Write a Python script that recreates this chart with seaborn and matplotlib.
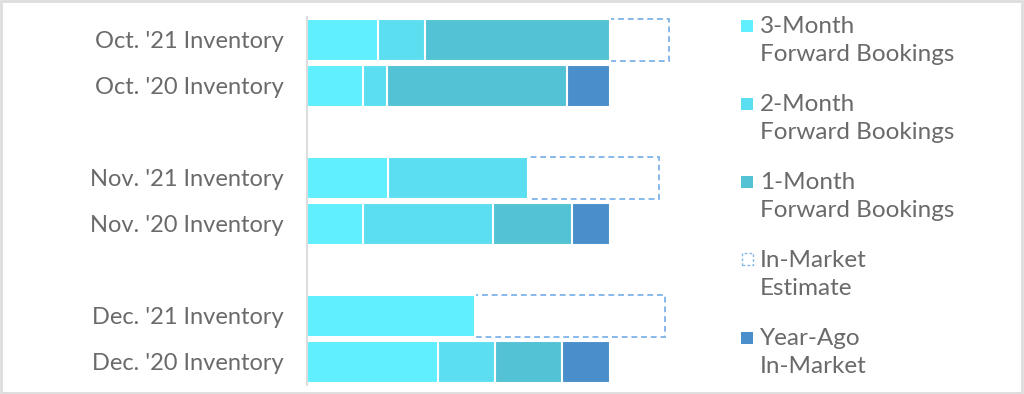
import numpy as np
import pandas as pd
import matplotlib
matplotlib.use("Agg")
import matplotlib.pyplot as plt
from matplotlib.patches import Rectangle
import seaborn as sns

# bar labels, top to bottom (blank rows sit between the month groups)
labels = ["Oct. '21 Inventory", "Oct. '20 Inventory",
          "Nov. '21 Inventory", "Nov. '20 Inventory",
          "Dec. '21 Inventory", "Dec. '20 Inventory"]
rows = [0, 1, 3, 4, 6, 7]

# segment sizes, % of year-ago in-market total
three_month = [23.5, 18.6, 26.7, 18.4, 55.4, 43.3]
two_month = [15.5, 7.8, 46.3, 42.9, 0.0, 18.7]
one_month = [61.0, 59.5, 0.0, 26.2, 0.0, 22.1]
in_market = [19.6, 0.0, 43.3, 0.0, 62.7, 0.0]
year_ago = [0.0, 14.1, 0.0, 12.5, 0.0, 15.9]

legend_labels = [("3-Month", "Forward Bookings"),
                 ("2-Month", "Forward Bookings"),
                 ("1-Month", "Forward Bookings"),
                 ("In-Market", "Estimate"),
                 ("Year-Ago", "In-Market")]

c3, c2, c1 = "#5FEFFE", "#5BDEF0", "#54C2D5"
c_ya, c_dash = "#4A8FCB", "#86B9EA"
txt = "#6a6a6a"

sns.set_style("white")
plt.rcParams["font.family"] = ["Lato", "DejaVu Sans"]

df = pd.DataFrame({"row": rows, "m3": three_month, "m2": two_month,
                   "m1": one_month, "im": in_market, "ya": year_ago})
df["c_m3"] = df["m3"]
df["c_m2"] = df["c_m3"] + df["m2"]
df["c_m1"] = df["c_m2"] + df["m1"]
df["c_ya"] = df["c_m1"] + df["ya"]
df["c_im"] = df["c_m1"] + df["im"]

fig = plt.figure(figsize=(10.24, 3.94), dpi=100)
ax = fig.add_axes([307 / 1024, 9 / 394, 393 / 1024, 368 / 394])

# stacked by overlaying cumulative totals, longest first
common = dict(orient="y", native_scale=True, width=0.93, errorbar=None, ax=ax)
sns.barplot(data=df, x="c_im", y="row", color="white", edgecolor=c_dash,
            linewidth=1.4, linestyle=(0, (3, 2)), saturation=1, **common)
sns.barplot(data=df, x="c_ya", y="row", color=c_ya, edgecolor="white",
            linewidth=1.5, saturation=1, **common)
sns.barplot(data=df, x="c_m1", y="row", color=c1, edgecolor="white",
            linewidth=1.5, saturation=1, **common)
sns.barplot(data=df, x="c_m2", y="row", color=c2, edgecolor="white",
            linewidth=1.5, saturation=1, **common)
sns.barplot(data=df, x="c_m3", y="row", color=c3, edgecolor="white",
            linewidth=1.5, saturation=1, **common)

ax.set_xlim(0, 129.7)
ax.set_ylim(7.5, -0.5)
ax.set_yticks(rows)
ax.set_yticklabels(labels, fontsize=17, color=txt)
ax.set_xticks([])
ax.set_xlabel("")
ax.set_ylabel("")
ax.tick_params(axis="y", length=0, pad=17)
for s in ["top", "right", "bottom"]:
    ax.spines[s].set_visible(False)
ax.spines["left"].set_color("#dddddd")
ax.spines["left"].set_linewidth(1.5)

# legend on the right, square lined up with the first text line
W, H = 1024, 394
fills = [c3, c2, c1, None, c_ya]
for i, ((l1, l2), fc) in enumerate(zip(legend_labels, fills)):
    base = 33 + 78 * i
    if fc is None:
        sq = Rectangle((742 / W, 1 - (base - 2) / H), 11 / W, 12 / H,
                       transform=fig.transFigure, facecolor="white",
                       edgecolor=c_dash, linewidth=1, linestyle=(0, (2, 1.5)))
    else:
        sq = Rectangle((741 / W, 1 - (base - 1) / H), 12 / W, 12 / H,
                       transform=fig.transFigure, facecolor=fc, edgecolor="none")
    fig.patches.append(sq)
    fig.text(760 / W, 1 - base / H, l1, fontsize=17.5, color=txt, va="baseline")
    fig.text(760 / W, 1 - (base + 28) / H, l2, fontsize=17.5, color=txt, va="baseline")

# thin grey frame round the whole picture
fig.patches.append(Rectangle((0.001, 0.003), 0.997, 0.994, transform=fig.transFigure,
                             facecolor="none", edgecolor="#dddddd", linewidth=2))

fig.savefig("out.png", dpi=100)
